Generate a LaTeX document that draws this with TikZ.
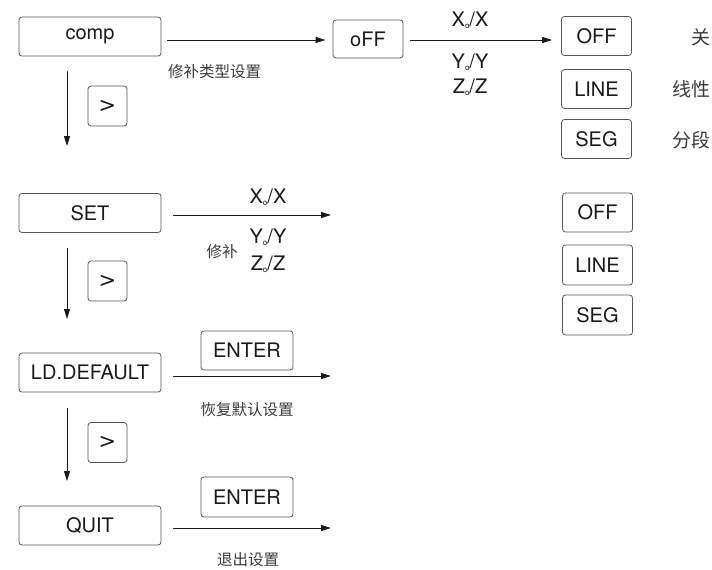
\documentclass[tikz,border=0pt]{standalone}
\usepackage{fontspec}
\setmainfont{TeX Gyre Heros}
\newfontfamily\cjk{Noto Sans CJK SC}
\newfontfamily\dejavu{DejaVu Sans}
\usetikzlibrary{arrows.meta}
\newcommand\subo{{\fontsize{8}{8}\selectfont\raisebox{-2pt}{o}}}
\newcommand\gtsym{{\dejavu\fontsize{21}{21}\selectfont >}}
\definecolor{boxline}{HTML}{555555}
\definecolor{txt}{HTML}{1A1A1A}
\definecolor{cn}{HTML}{3A3A3A}
\begin{document}
\begin{tikzpicture}[x=1pt,y=-1pt,
  every node/.style={text=txt},
  keybox/.style={draw=boxline,line width=0.8pt,rounded corners=3pt,inner sep=0pt,font=\fontsize{20}{20}\selectfont},
  menubox/.style={keybox,minimum width=142pt,minimum height=39pt},
  smallbox/.style={keybox,minimum width=39pt,minimum height=40pt},
  optbox/.style={keybox,minimum width=70pt,minimum height=39pt},
  enterbox/.style={keybox,minimum width=92pt,minimum height=39pt},
  lbl/.style={font=\fontsize{20}{20}\selectfont,inner sep=0pt},
  cnl/.style={font=\cjk\fontsize{15.5}{15.5}\selectfont,text=cn,inner sep=0pt},
  cnr/.style={font=\cjk\fontsize{19}{19}\selectfont,text=cn,inner sep=0pt},
  arr/.style={draw=txt,line width=0.9pt,-{Triangle[length=10pt,width=6pt]}}]
\useasboundingbox (0,0) rectangle (712,570);
% menu column
\node[menubox] (comp) at (90,36.5) {comp};
\node[menubox] (set) at (90,213) {SET};
\node[menubox] (ld) at (90,372.5) {LD.DEFAULT};
\node[menubox] (quit) at (90,525.5) {QUIT};
% > keys
\node[smallbox] (k1) at (107.5,106) {\gtsym};
\node[smallbox] (k2) at (107.5,281) {\gtsym};
\node[smallbox] (k3) at (107.5,442.5) {\gtsym};
% down arrows
\coordinate (d1a) at (67,71); \coordinate (d1b) at (67,146);
\coordinate (d2a) at (67,248); \coordinate (d2b) at (67,319);
\coordinate (d3a) at (67,408); \coordinate (d3b) at (67,481);
\draw[arr] (d1a) -- (d1b);
\draw[arr] (d2a) -- (d2b);
\draw[arr] (d3a) -- (d3b);
% comp row
\node[keybox,minimum width=70pt,minimum height=38pt] (off0) at (368,39) {oFF};
\draw[arr] ([xshift=6pt]comp.east |- 0,40) -- ([xshift=-7pt]off0.west |- 0,40);
\node[cnl,anchor=west] (t1) at (168,72) {修补类型设置};
\node[optbox] (o1) at (596.5,36) {OFF};
\node[optbox] (o2) at (596.5,89) {LINE};
\node[optbox] (o3) at (596.5,139) {SEG};
\draw[arr] ([xshift=7pt]off0.east |- 0,40) -- ([xshift=-9pt]o1.west |- 0,40);
\node[lbl] (x1) at (470,20) {X\subo/X};
\node[lbl] (y1) at (470,62) {Y\subo/Y};
\node[lbl] (z1) at (470,87) {Z\subo/Z};
\node[cnr] (c1) at (701,37) {关};
\node[cnr] (c2) at (691,89) {线性};
\node[cnr] (c3) at (691,140) {分段};
% SET row
\coordinate (e2) at (331,215);
\draw[arr] ([xshift=12pt]set.east |- e2) -- (e2);
\node[lbl] (x2) at (268,197) {X\subo/X};
\node[lbl] (y2) at (268,237) {Y\subo/Y};
\node[lbl] (z2) at (268,264) {Z\subo/Z};
\node[cnl] (t2) at (222,252) {修补};
\node[optbox] (p1) at (597.5,212.5) {OFF};
\node[optbox,minimum height=40pt] (p2) at (597.5,265) {LINE};
\node[optbox,minimum height=40pt] (p3) at (597.5,315) {SEG};
% LD row
\node[enterbox] (en1) at (247,350.5) {ENTER};
\coordinate (e3) at (331,376);
\draw[arr] ([xshift=12pt]ld.east |- e3) -- (e3);
\node[cnl] (t3) at (247,410) {恢复默认设置};
% QUIT row
\node[enterbox,minimum height=40pt] (en2) at (247,497) {ENTER};
\coordinate (e4) at (331,528);
\draw[arr] ([xshift=12pt]quit.east |- e4) -- (e4);
\node[cnl] (t4) at (248,560) {退出设置};
\end{tikzpicture}
\end{document}
